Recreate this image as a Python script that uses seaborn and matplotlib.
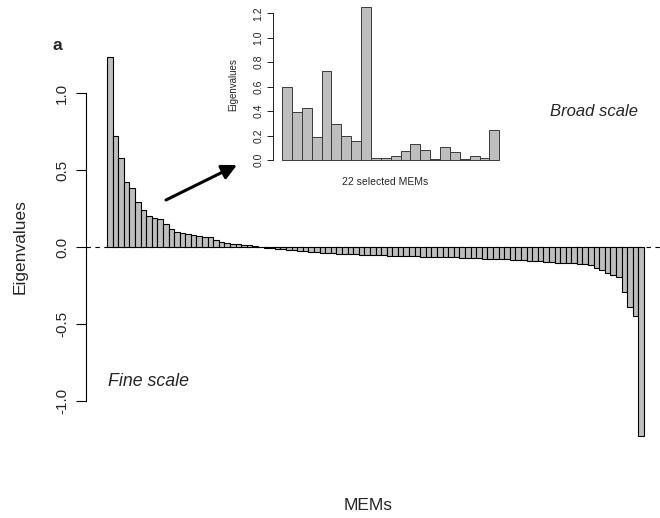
import numpy as np
import pandas as pd
import matplotlib
matplotlib.use("Agg")
import matplotlib.pyplot as plt
import seaborn as sns

# ---------------- data ----------------
pos_eigen = [1.236, 0.72, 0.58, 0.42, 0.38, 0.29, 0.24, 0.20, 0.186, 0.18,
             0.15, 0.12, 0.095, 0.089, 0.082, 0.075, 0.07, 0.065, 0.062, 0.045,
             0.03, 0.027, 0.022, 0.018, 0.014, 0.010, 0.006, 0.002]
neg_eigen = [-0.004, -0.008, -0.012, -0.014, -0.018, -0.021, -0.023, -0.026, -0.03, -0.032,
             -0.036, -0.039, -0.041, -0.044, -0.046, -0.047, -0.048, -0.049, -0.050, -0.052,
             -0.054, -0.055, -0.056, -0.057, -0.058, -0.059, -0.060, -0.061, -0.062, -0.063,
             -0.064, -0.065, -0.066, -0.067, -0.068, -0.069, -0.071, -0.073, -0.074, -0.075,
             -0.076, -0.078, -0.080, -0.081, -0.083, -0.085, -0.086, -0.088, -0.091, -0.094,
             -0.097, -0.099, -0.101, -0.103, -0.105, -0.107, -0.110, -0.113, -0.117, -0.134,
             -0.150, -0.167, -0.180, -0.197, -0.290, -0.390, -0.450, -1.230]
selected_eigen = [0.593, 0.391, 0.429, 0.191, 0.730, 0.295, 0.200, 0.156, 1.249, 0.019,
                  0.019, 0.033, 0.077, 0.134, 0.085, 0.011, 0.107, 0.068, 0.011, 0.030,
                  0.019, 0.249]
main_yticks = [-1.0, -0.5, 0.0, 0.5, 1.0]
inset_yticks = [0.0, 0.2, 0.4, 0.6, 0.8, 1.0, 1.2]

eigen = pos_eigen + neg_eigen
df_main = pd.DataFrame({"mem": np.arange(len(eigen)), "eig": eigen})
df_ins = pd.DataFrame({"mem": np.arange(len(selected_eigen)), "eig": selected_eigen})

# ---------------- style ----------------
sns.set_style("white")
plt.rcParams["font.family"] = ["Liberation Sans", "DejaVu Sans"]

W, H = 660, 518
fig = plt.figure(figsize=(W / 100, H / 100), dpi=100)

def fr(x, y):
    return x / W, 1 - y / H

BAR = "#bebebe"

# ---------------- main axes ----------------
ax = fig.add_axes([86 / W, (H - 452) / H, (660 - 86) / W, 411 / H])
sns.barplot(data=df_main, x="mem", y="eig", color=BAR, saturation=1, width=1,
            edgecolor="black", linewidth=0.8, ax=ax)
ax.set_xlim(-4.254, 98.36)
ax.set_ylim(-(452 - 247) / 154, (247 - 41) / 154)
ax.axhline(0, color="black", lw=0.8, ls=(0, (4, 4)), zorder=0)
for s in ["top", "right", "bottom"]:
    ax.spines[s].set_visible(False)
ax.spines["left"].set_bounds(-1, 1)
ax.spines["left"].set_color("black")
ax.spines["left"].set_linewidth(0.8)
ax.set_xticks([])
ax.set_yticks(main_yticks)
ax.set_yticklabels([f"{v:.1f}" for v in main_yticks], rotation=90, va="center")
ax.tick_params(axis="y", left=True, length=7, width=0.8, pad=5, labelsize=11,
               color="black")
ax.set_xlabel("")
ax.set_ylabel("")

fig.text(*fr(20, 247), "Eigenvalues", rotation=90, ha="center", va="center", fontsize=12.5)
fig.text(*fr(368, 506), "MEMs", ha="center", va="center", fontsize=12.5)
fig.text(*fr(57, 45), "a", ha="center", va="center", fontsize=12.5, fontweight="bold")
fig.text(*fr(108, 381), "Fine scale", ha="left", va="center", fontsize=12.8, style="italic")
fig.text(*fr(550, 111), "Broad scale", ha="left", va="center", fontsize=12, style="italic")

# arrow
ax.annotate("", xy=fr(237, 165), xytext=fr(166, 200), xycoords="figure fraction",
            textcoords="figure fraction",
            arrowprops=dict(arrowstyle="-|>,head_length=0.9,head_width=0.45",
                            color="black", lw=2.2, shrinkA=0, shrinkB=0))

# ---------------- inset ----------------
ai = fig.add_axes([273 / W, (H - 166) / H, 235 / W, 165 / H])
sns.barplot(data=df_ins, x="mem", y="eig", color=BAR, saturation=1, width=1,
            edgecolor="#3a3a3a", linewidth=0.7, ax=ai)
ai.set_xlim(-1.41, 22.38)
ai.set_ylim(-(166 - 160) / 122.3, (160 - 1) / 122.3)
ai.patch.set_alpha(0)
for s in ["top", "right", "bottom"]:
    ai.spines[s].set_visible(False)
ai.spines["left"].set_bounds(0, 1.2)
ai.spines["left"].set_color("black")
ai.spines["left"].set_linewidth(0.6)
ai.set_xticks([])
ai.set_yticks(inset_yticks)
ai.set_yticklabels([f"{v:.1f}" for v in inset_yticks], rotation=90, va="center")
ai.tick_params(axis="y", left=True, length=4, width=0.6, pad=3, labelsize=7.5,
               color="black")
ai.set_xlabel("")
ai.set_ylabel("")
fig.text(*fr(233, 85), "Eigenvalues", rotation=90, ha="center", va="center", fontsize=7)
fig.text(*fr(385, 182), "22 selected MEMs", ha="center", va="center", fontsize=7.5)

fig.savefig("out.png", dpi=100)
